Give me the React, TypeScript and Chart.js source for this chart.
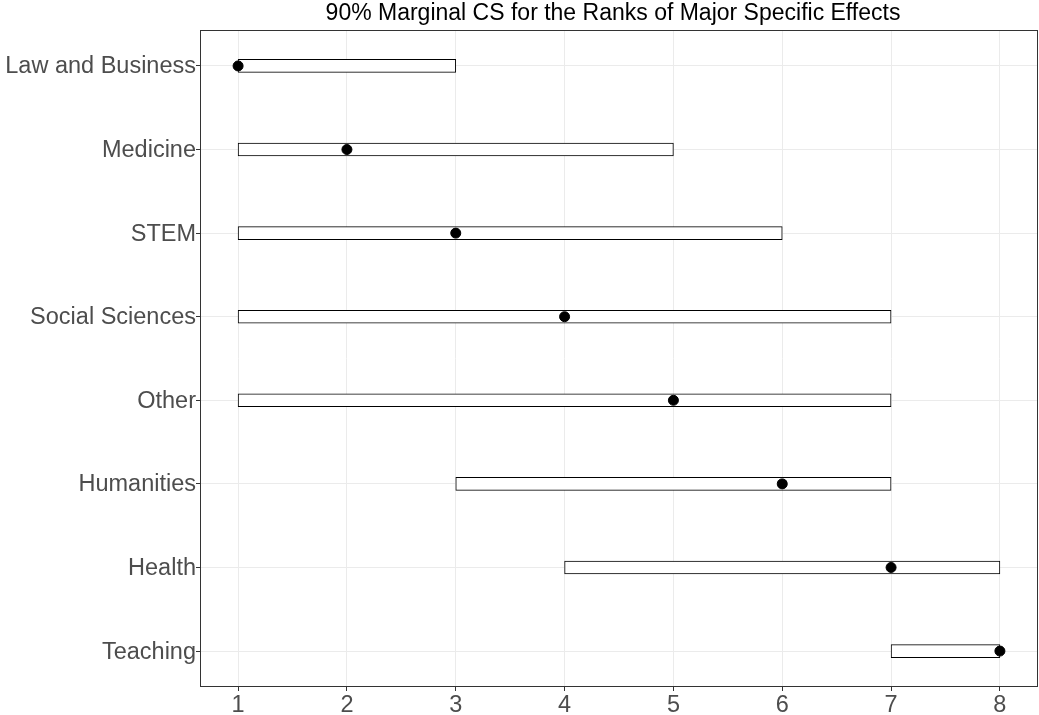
import React, { useEffect, useRef } from "react";
import { Chart, registerables } from "chart.js";

Chart.register(...registerables);

const categories = [
  "Law and Business",
  "Medicine",
  "STEM",
  "Social Sciences",
  "Other",
  "Humanities",
  "Health",
  "Teaching",
];
const lowerRank = [1, 1, 1, 1, 1, 3, 4, 7];
const upperRank = [3, 5, 6, 7, 7, 7, 8, 8];
const estimatedRank = [1, 2, 3, 4, 5, 6, 7, 8];
const xTicks = [1, 2, 3, 4, 5, 6, 7, 8];
const titleText = "90% Marginal CS for the Ranks of Major Specific Effects";

const FONT = "'Liberation Sans', Arial, Helvetica, sans-serif";

export default function App() {
  const ref = useRef<HTMLCanvasElement | null>(null);

  useEffect(() => {
    if (!ref.current) return;
    const framePlugin = {
      id: "frame",
      afterDatasetsDraw(chart: any) {
        const { ctx, chartArea } = chart;
        ctx.save();
        ctx.strokeStyle = "#333333";
        ctx.lineWidth = 1;
        ctx.strokeRect(
          Math.round(chartArea.left) + 0.5,
          Math.round(chartArea.top) + 0.5,
          Math.round(chartArea.right - chartArea.left) - 1,
          Math.round(chartArea.bottom - chartArea.top) - 1
        );
        ctx.restore();
      },
      afterDraw(chart: any) {
        const { ctx, chartArea } = chart;
        ctx.save();
        ctx.fillStyle = "#000000";
        ctx.font = `23px ${FONT}`;
        ctx.textAlign = "center";
        ctx.textBaseline = "middle";
        ctx.fillText(titleText, (chartArea.left + chartArea.right) / 2 - 6, 14);
        ctx.restore();
      },
    };

    const chart = new Chart(ref.current, {
      type: "bar",
      data: {
        datasets: [
          {
            type: "scatter",
            label: "estimate",
            data: estimatedRank.map((v, i) => ({ x: v, y: i + 1 })),
            backgroundColor: "#000000",
            borderColor: "#000000",
            pointRadius: 5,
            pointHoverRadius: 5,
            clip: false,
            order: 1,
          } as any,
          {
            type: "bar",
            label: "CS",
            data: categories.map((_, i) => ({ x: [lowerRank[i], upperRank[i]], y: i + 1 })),
            backgroundColor: "#ffffff",
            borderColor: "#000000",
            borderWidth: 1,
            borderSkipped: false,
            barThickness: 13,
            order: 2,
          } as any,
        ],
      },
      options: {
        indexAxis: "y",
        responsive: false,
        animation: false,
        events: [],
        layout: { autoPadding: false, padding: { top: 30, right: 1, left: 0, bottom: 0 } },
        plugins: {
          legend: { display: false },
          tooltip: { enabled: false },
          title: { display: false },
        },
        scales: {
          x: {
            type: "linear",
            position: "bottom",
            offset: false,
            min: 0.65,
            max: 8.35,
            afterBuildTicks: (scale: any) => {
              scale.ticks = xTicks.map((v) => ({ value: v }));
            },
            afterFit: (scale: any) => {
              scale.height = 28;
              scale.paddingLeft = 0;
              scale.paddingRight = 0;
            },
            grid: {
              offset: false,
              color: "#EBEBEB",
              lineWidth: 1,
              drawTicks: true,
              tickLength: 4,
              tickColor: "#333333",
            },
            border: { display: false },
            ticks: {
              color: "#4D4D4D",
              font: { family: FONT, size: 23.5 },
              padding: 0,
              callback: (v: any) => String(v),
            },
          },
          y: {
            type: "linear",
            reverse: true,
            offset: false,
            min: 0.57,
            max: 8.43,
            afterBuildTicks: (scale: any) => {
              scale.ticks = categories.map((_, i) => ({ value: i + 1 }));
            },
            afterFit: (scale: any) => {
              scale.width = 200;
              scale.paddingTop = 0;
              scale.paddingBottom = 0;
            },
            grid: {
              offset: false,
              color: "#EBEBEB",
              lineWidth: 1,
              drawTicks: true,
              tickLength: 4,
              tickColor: "#333333",
            },
            border: { display: false },
            ticks: {
              color: "#4D4D4D",
              font: { family: FONT, size: 23.5 },
              padding: 0,
              labelOffset: 1,
              callback: (v: any) => categories[Math.round(v) - 1] ?? "",
            },
          },
        },
      } as any,
      plugins: [framePlugin],
    });
    return () => chart.destroy();
  }, []);

  return (
    <div style={{ position: "fixed", left: 0, top: 0, width: 1039, height: 715, background: "#fff" }}>
      <canvas ref={ref} width={1039} height={715} />
    </div>
  );
}
